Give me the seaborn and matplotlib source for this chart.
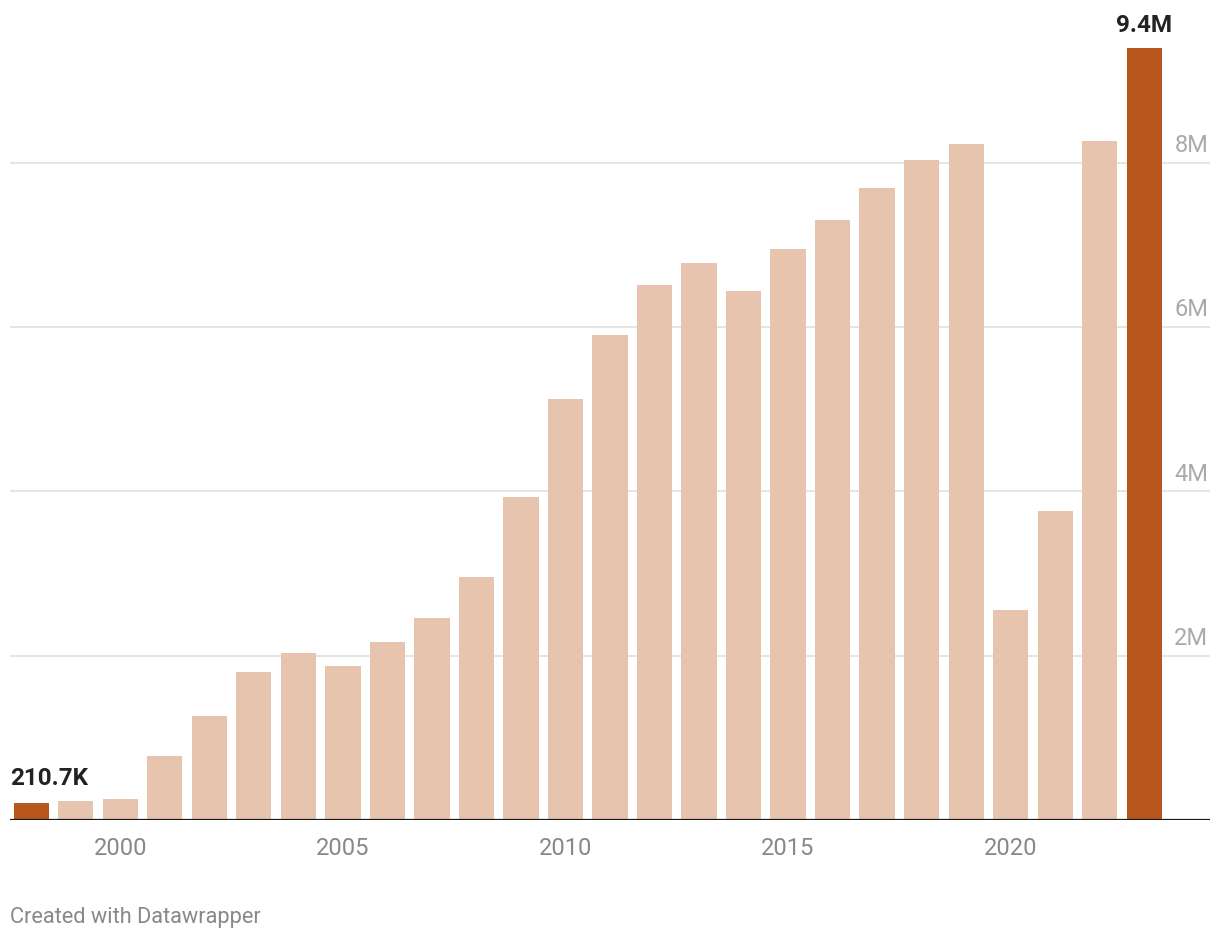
import numpy as np
import pandas as pd
import matplotlib.pyplot as plt
import matplotlib.transforms as mtransforms
import seaborn as sns

# =============================
# Data
# =============================
years = list(range(1998, 2024))
values_m = [0.2107, 0.23, 0.255, 0.78, 1.27, 1.80, 2.03, 1.87, 2.17, 2.46,
            2.96, 3.93, 5.12, 5.90, 6.51, 6.78, 6.44, 6.95, 7.30, 7.69,
            8.03, 8.22, 2.55, 3.76, 8.26, 9.39]
highlight_years = [1998, 2023]
highlight_labels = ['210.7K', '9.4M']
ytick_vals = [2e6, 4e6, 6e6, 8e6]
ytick_labels = ['2M', '4M', '6M', '8M']
xtick_years = [2000, 2005, 2010, 2015, 2020]

LIGHT = '#e6c4ae'
DARK = '#b8561b'

df = pd.DataFrame({'year': [str(y) for y in years],
                   'value': np.array(values_m) * 1e6})
palette = {str(y): (DARK if y in highlight_years else LIGHT) for y in years}

# =============================
# Plot
# =============================
sns.set_style('white')
plt.rcParams['font.family'] = ['Roboto', 'DejaVu Sans']

fig = plt.figure(figsize=(12.2, 9.42), dpi=100)
ax = fig.add_axes([10 / 1220, 1 - 820 / 942, 1200 / 1220, (820 - 31) / 942])

sns.barplot(data=df, x='year', y='value', hue='year', palette=palette,
            order=df['year'], width=0.79, legend=False, ax=ax, saturation=1,
            linewidth=0)

ax.set_xlim(-0.48, 26.48)
ax.set_ylim(0, 9.6e6)

# grid lines and y labels (inside, right)
trans = mtransforms.blended_transform_factory(ax.transAxes, ax.transData)
for v, lab in zip(ytick_vals, ytick_labels):
    ax.axhline(v, color='#e0e0e0', lw=1.2, zorder=0)
    ax.annotate(lab, xy=(0.9985, v), xycoords=trans, xytext=(0, 4),
                textcoords='offset points', ha='right', va='bottom',
                fontsize=17, color='#aaaaaa')
ax.set_yticks([])
ax.axhline(0, color='#1a1a1a', lw=1.6, zorder=5)

# x ticks
pos = [years.index(y) for y in xtick_years]
ax.set_xticks(pos)
ax.set_xticklabels([str(y) for y in xtick_years], fontsize=17, color='#888888')
ax.tick_params(axis='x', length=0, pad=12)
ax.set_xlabel('')
ax.set_ylabel('')
sns.despine(ax=ax, left=True, bottom=True)

# highlight labels
i0 = years.index(highlight_years[0])
ax.annotate(highlight_labels[0], xy=(-0.48, values_m[i0] * 1e6), xytext=(0, 9),
            textcoords='offset points', ha='left', va='bottom',
            fontsize=17.5, fontweight='bold', color='#222222')
i1 = years.index(highlight_years[1])
ax.annotate(highlight_labels[1], xy=(i1, values_m[i1] * 1e6), xytext=(0, 8),
            textcoords='offset points', ha='center', va='bottom',
            fontsize=17.5, fontweight='bold', color='#222222')

fig.text(10 / 1220, 1 - 918 / 942, 'Created with Datawrapper', ha='left', va='center',
         fontsize=15.7, color='#888888')

fig.savefig('out.png', dpi=100)
